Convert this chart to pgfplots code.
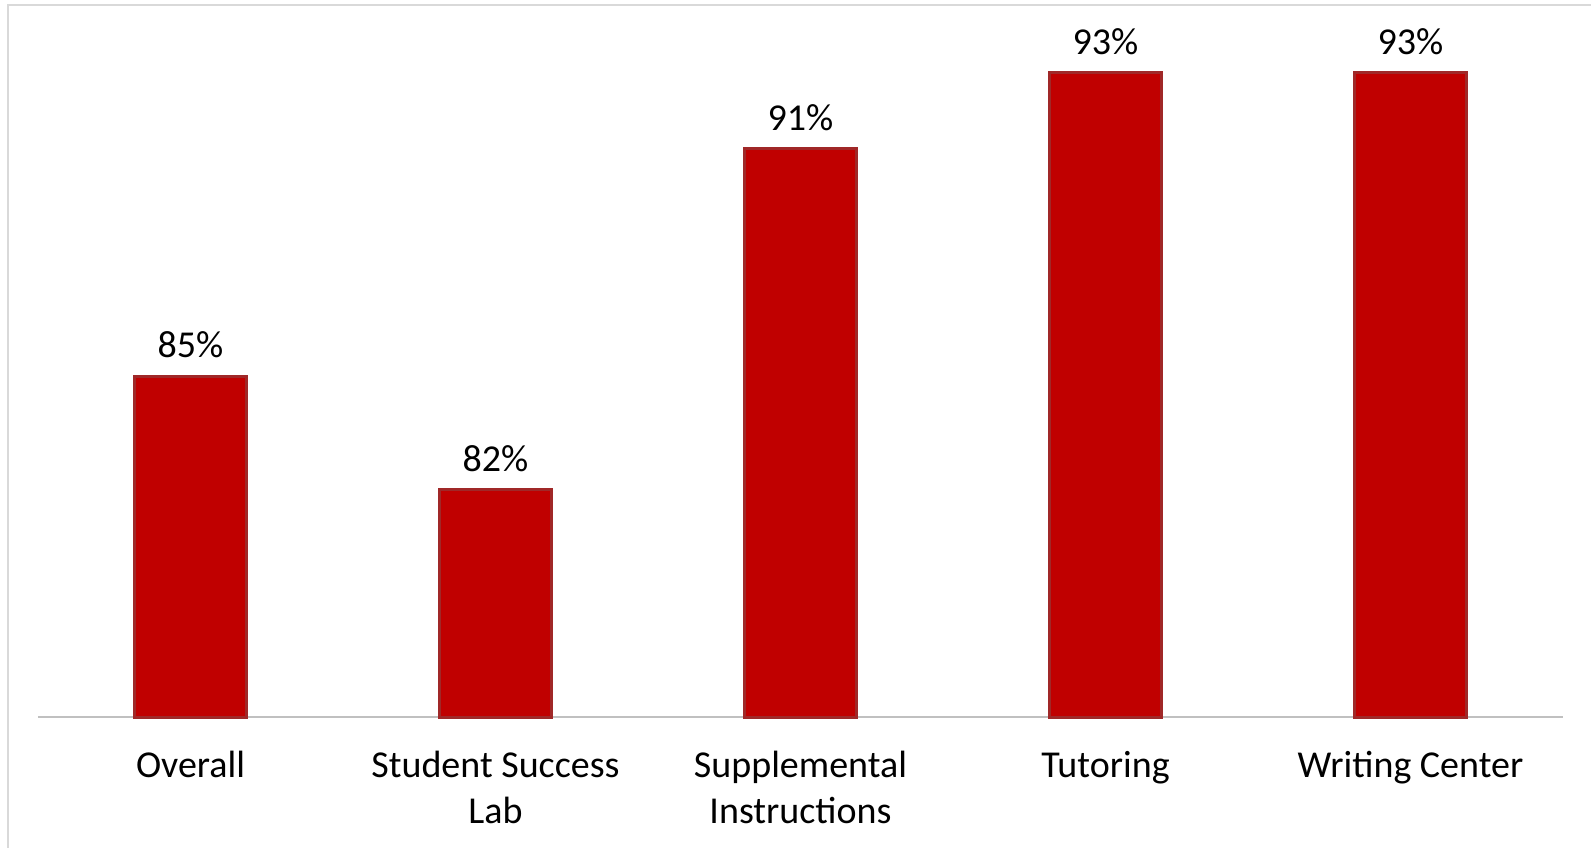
\documentclass[border=0pt]{standalone}
\usepackage{pgfplots}
\pgfplotsset{compat=1.18}
\usepackage{fontspec}
\setmainfont{Carlito}
\definecolor{barred}{HTML}{C00000}
\definecolor{baredge}{HTML}{A02828}
\definecolor{axgray}{HTML}{C0C0C0}
\definecolor{frame}{HTML}{D9D9D9}
\begin{document}
\begin{tikzpicture}
\useasboundingbox (-19pt,-65pt) rectangle (776.5pt,358.5pt);
\draw[frame, line width=1pt] (-14.75pt,-70pt) -- (-14.75pt,356pt) -- (790pt,356pt);
\begin{axis}[
  at={(0pt,0pt)}, anchor=south west,
  scale only axis,
  width=762.5pt, height=341pt,
  xmin=-0.5, xmax=4.5, ymin=76, ymax=94,
  axis y line=none,
  axis x line=bottom,
  x axis line style={-, draw=axgray, line width=1.3pt},
  xtick={0,1,2,3,4},
  xticklabels={Overall,{Student Success\\Lab},{Supplemental\\Instructions},Tutoring,{Writing Center}},
  major tick length=0pt,
  x tick label style={align=center, font=\fontsize{19}{23}\selectfont, yshift=-13.5pt},
  ybar, bar width=56pt,
  nodes near coords={\pgfmathprintnumber[fixed,precision=0,assume math mode=true]{\pgfplotspointmeta}\%},
  every node near coord/.append style={font=\fontsize{19}{22}\selectfont, text=black, yshift=5pt},
  clip=false,
]
\addplot[fill=barred, draw=baredge, line width=1.5pt] coordinates {(0,85) (1,82) (2,91) (3,93) (4,93)};
\end{axis}
\end{tikzpicture}
\end{document}
